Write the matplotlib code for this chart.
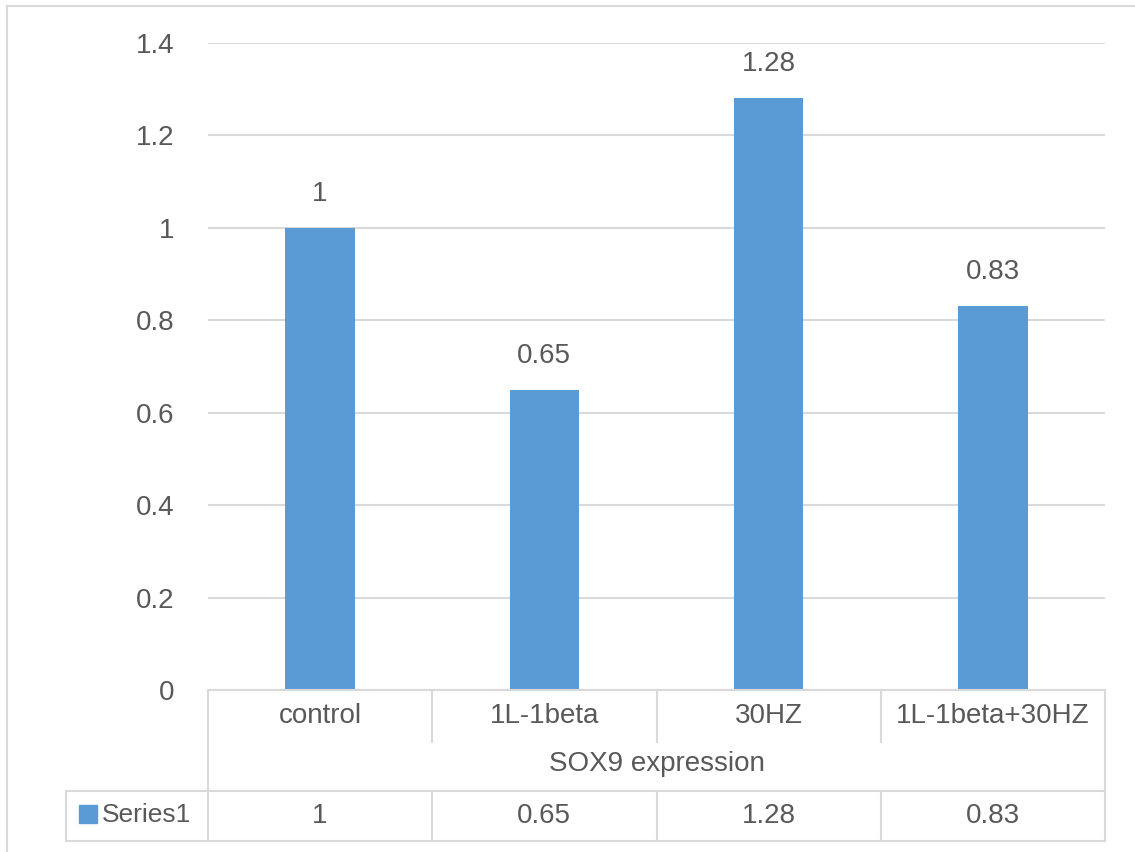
import matplotlib
matplotlib.use("Agg")
import matplotlib.pyplot as plt
from matplotlib.lines import Line2D
from matplotlib.patches import Rectangle

# -------------------------
# Data
# -------------------------
categories = ["control", "1L-1beta", "30HZ", "1L-1beta+30HZ"]
values = [1, 0.65, 1.28, 0.83]
value_labels = ["1", "0.65", "1.28", "0.83"]
series_name = "Series1"
group_label = "SOX9 expression"
yticks = [0, 0.2, 0.4, 0.6, 0.8, 1.0, 1.2, 1.4]
ytick_labels = ["0", "0.2", "0.4", "0.6", "0.8", "1", "1.2", "1.4"]

# -------------------------
# Style
# -------------------------
W, H = 1135, 852
bar_color = "#5B9BD5"
grid_color = "#D9D9D9"
text_color = "#595959"
font = "Liberation Sans"
fs = 20

plt.rcParams["font.family"] = [font, "DejaVu Sans"]

fig = plt.figure(figsize=(W / 100, H / 100), dpi=100)

# pixel -> figure fraction helpers
def fx(px):
    return px / W

def fy(py):
    return 1 - py / H

x_left, x_right = 208, 1105
y_top, y_zero = 43, 690

ax = fig.add_axes([fx(x_left), fy(y_zero), fx(x_right - x_left), (y_zero - y_top) / H])
x = list(range(len(categories)))
ax.bar(x, values, width=0.31, color=bar_color, zorder=3)
ax.set_xlim(-0.5, len(categories) - 0.5)
ax.set_ylim(0, 1.4)
ax.set_yticks(yticks)
ax.set_yticklabels(ytick_labels, fontsize=fs, color=text_color)
ax.tick_params(axis="y", length=0, pad=24)
ax.set_xticks([])
for s in ax.spines.values():
    s.set_visible(False)
ax.grid(axis="y", color=grid_color, linewidth=1.5, zorder=0)

for xi, v, lab in zip(x, values, value_labels):
    ax.annotate(lab, (xi, v), xytext=(0, 34), textcoords="offset pixels",
                ha="center", va="center", fontsize=fs, color=text_color)

# -------------------------
# Data table below the plot
# -------------------------
def hline(y, x0, x1):
    fig.add_artist(Line2D([fx(x0), fx(x1)], [fy(y), fy(y)], color=grid_color,
                          linewidth=1.5, transform=fig.transFigure))

def vline(xp, y0, y1):
    fig.add_artist(Line2D([fx(xp), fx(xp)], [fy(y0), fy(y1)], color=grid_color,
                          linewidth=1.5, transform=fig.transFigure))

y_cat_end, y_row, y_bot = 742, 791, 841
x_tab_left = 66
cell_w = (x_right - x_left) / len(categories)

hline(y_zero, x_left, x_right)
hline(y_row, x_tab_left, x_right)
hline(y_bot, x_tab_left, x_right)
vline(x_left, y_zero, y_bot)
vline(x_right, y_zero, y_bot)
vline(x_tab_left, y_row, y_bot)
for i in range(1, len(categories)):
    xp = x_left + i * cell_w
    vline(xp, y_zero, y_cat_end)
    vline(xp, y_row, y_bot)

for i, (c, lab) in enumerate(zip(categories, value_labels)):
    xc = x_left + (i + 0.5) * cell_w
    fig.text(fx(xc), fy(716), c, ha="center", va="center", fontsize=fs, color=text_color)
    fig.text(fx(xc), fy(816), lab, ha="center", va="center", fontsize=fs, color=text_color)

fig.text(fx((x_left + x_right) / 2), fy(764), group_label, ha="center", va="center",
         fontsize=fs, color=text_color)

fig.add_artist(Rectangle((fx(79), fy(823)), fx(18), 18 / H, color=bar_color,
                         transform=fig.transFigure))
fig.text(fx(102), fy(815), series_name, ha="left", va="center", fontsize=fs - 1,
         color=text_color)

# outer chart border (left and top)
vline(7, 6, H)
hline(6, 7, W)

fig.savefig("out.png", dpi=100)
